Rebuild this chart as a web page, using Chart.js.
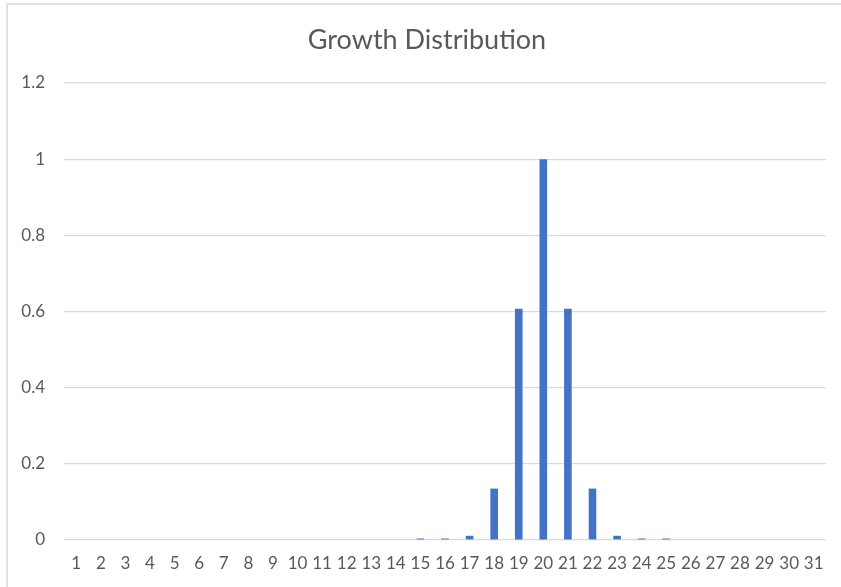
<!DOCTYPE html>
<html>
<head>
<meta charset="utf-8">
<script src="https://cdn.jsdelivr.net/npm/chart.js@4.4.1/dist/chart.umd.min.js"></script>
<style>
  html, body { margin: 0; padding: 0; background: #ffffff; }
  #wrap { width: 841px; height: 587px; }
</style>
</head>
<body>
<div id="wrap"><canvas id="chart" width="841" height="587"></canvas></div>
<script>
// Growth values per bucket (1..31)
const categories = Array.from({ length: 31 }, (_, i) => String(i + 1));
const growth = [
  0, 0, 0, 0, 0, 0, 0, 0, 0, 0,
  0, 0, 0, 0, 0.004, 0.004, 0.011, 0.135, 0.607, 1,
  0.607, 0.135, 0.011, 0.004, 0.004, 0, 0, 0, 0, 0,
  0
];
const yTicks = [0, 0.2, 0.4, 0.6, 0.8, 1, 1.2];
const chartTitle = 'Growth Distribution';

const textColor = '#595959';
const gridColor = '#d9d9d9';
const fontFamily = 'Lato, "Open Sans", sans-serif';

// Light frame around the chart, plus the heading centred over the framed area
const framePlugin = {
  id: 'frame',
  beforeDraw(chart) {
    const ctx = chart.ctx;
    ctx.save();
    ctx.fillStyle = '#ffffff';
    ctx.fillRect(0, 0, chart.width, chart.height);
    ctx.strokeStyle = gridColor;
    ctx.lineWidth = 1.5;
    ctx.strokeRect(7, 4, chart.width + 20, chart.height + 20);
    ctx.restore();
  },
  afterDraw(chart) {
    const ctx = chart.ctx;
    ctx.save();
    ctx.fillStyle = textColor;
    ctx.font = '27px ' + fontFamily;
    ctx.textAlign = 'center';
    ctx.textBaseline = 'middle';
    ctx.fillText(chartTitle, 427, 40);
    ctx.restore();
  }
};

new Chart(document.getElementById('chart'), {
  type: 'bar',
  data: {
    labels: categories,
    datasets: [{
      label: 'Growth',
      data: growth,
      backgroundColor: '#4472c4',
      borderWidth: 0,
      categoryPercentage: 1,
      barPercentage: 0.31
    }]
  },
  options: {
    responsive: false,
    animation: false,
    layout: { padding: { left: 0, right: 15, top: 83, bottom: 0 } },
    plugins: {
      legend: { display: false },
      tooltip: { enabled: false },
      title: { display: false }
    },
    scales: {
      x: {
        grid: { display: false, drawTicks: false },
        border: { display: false },
        ticks: {
          color: textColor,
          font: { family: fontFamily, size: 17 },
          padding: 13,
          autoSkip: false,
          maxRotation: 0
        },
        afterFit(scale) { scale.height = 47; }
      },
      y: {
        min: 0,
        max: 1.2,
        afterBuildTicks(scale) { scale.ticks = yTicks.map(v => ({ value: v })); },
        grid: { color: gridColor, lineWidth: 1.2, drawTicks: false },
        border: { display: false },
        ticks: {
          color: textColor,
          font: { family: fontFamily, size: 17 },
          padding: 19,
          callback: (v) => String(Math.round(v * 10) / 10)
        },
        afterFit(scale) { scale.width = 64; }
      }
    }
  },
  plugins: [framePlugin]
});
</script>
</body>
</html>
